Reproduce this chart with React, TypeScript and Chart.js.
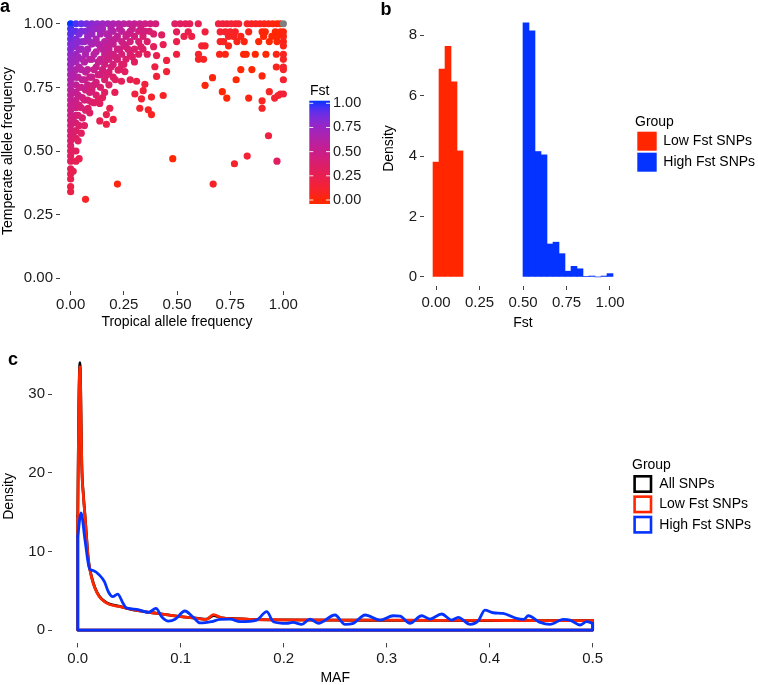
import React, { useEffect, useRef } from 'react';
import { Chart, registerables } from 'chart.js';

Chart.register(...registerables);

const FONT = '"Liberation Sans", Arial, Helvetica, sans-serif';
const RED = '#FF2600';
const BLUE = '#0433FF';
const NA_GREY = '#7F7F7F';
const TEXT = '#1A1A1A';
const TICK = '#444444';
const TICK_FONT = 15;

// ---------- Panel a: allele frequencies ----------
const tropicalAF = [
  0, 0.025, 0.05, 0.075, 0.1, 0.125, 0.15, 0.175, 0.2, 0.225,
  0.25, 0.275, 0.3, 0.325, 0.35, 0.375, 0.4, 0.49, 0.515, 0.54,
  0.56, 0.6, 0.695, 0.715, 0.735, 0.755, 0.775, 0.79, 0.83, 0.85,
  0.87, 0.89, 0.91, 0.93, 0.95, 0.97, 0.985, 1,
  0, 0, 0, 0, 0, 0, 0, 0, 0, 0, 0,
  0, 0, 0, 0, 0, 0, 0, 0, 0, 0, 0,
  0, 0, 0, 0, 0, 0, 0, 0, 0, 0,
  0.025, 0.025, 0.025, 0.025, 0.025, 0.025, 0.025, 0.025, 0.025,
  0.025, 0.025, 0.025, 0.025, 0.025, 0.025, 0.025, 0.025,
  0.04, 0.04, 0.04, 0.04, 0.04, 0.04, 0.04,
  0.055, 0.055, 0.055, 0.055, 0.055, 0.07, 0.07, 0.07, 0.07, 0.07, 0.07,
  0.08, 0.08, 0.08, 0.08, 0.08, 0.082, 0.09, 0.097,
  0.1, 0.1, 0.1, 0.1, 0.1, 0.12, 0.12, 0.12, 0.12, 0.12,
  0.137, 0.137, 0.14, 0.14, 0.14, 0.14, 0.14,
  0.16, 0.16, 0.16, 0.16, 0.16, 0.168, 0.168, 0.184,
  0.18, 0.18, 0.18, 0.18, 0.18, 0.2, 0.2, 0.2, 0.2, 0.2, 0.2,
  0.208, 0.223, 0.22, 0.22, 0.22, 0.239, 0.24, 0.24, 0.24, 0.24,
  0.255, 0.26, 0.26, 0.26, 0.28, 0.28, 0.28, 0.28,
  0.302, 0.3, 0.3, 0.3, 0.31, 0.32, 0.32, 0.32,
  0.325, 0.333, 0.341, 0.349, 0.34, 0.34, 0.365, 0.36, 0.36, 0.37,
  0.38, 0.38, 0.39, 0.39, 0.396, 0.404, 0.404, 0.428, 0.435, 0.435, 0.451, 0.451,
  0.22, 0.48, 0.67, 0.77, 0.83, 0.93, 0.97,
  0.498, 0.553, 0.632, 0.703, 0.727, 0.75, 0.774, 0.837, 0.9, 0.915, 0.962, 0.986, 1,
  0.533, 0.569, 0.742, 0.766, 0.8, 0.907, 0.946, 0.97, 1,
  0.498, 0.703, 0.719, 0.782, 0.816, 0.884, 0.934, 0.97, 1,
  0.616, 0.632, 0.742, 1, 0.498, 0.601, 0.7, 0.727, 0.813, 0.825,
  0.868, 0.918, 0.967, 1, 0.601, 0.625, 1, 0.967, 1,
  0.8, 0.852, 1, 0.9, 0.667, 0.778, 1, 0.632,
  0.713, 0.934, 0.986, 1, 0.975, 0.734, 0.837, 0.959, 0.9, 0.9,
  0.012, 0.012, 0.012, 0.012, 0.012, 0.012, 0.012, 0.012, 0.012, 0.012,
  0.035, 0.035, 0.035, 0.035, 0.035, 0.035, 0.05, 0.05, 0.05, 0.05, 0.05, 0.05,
  0.065, 0.065, 0.065, 0.065, 0.065, 0.09, 0.09, 0.09, 0.09, 0.09,
  0.11, 0.11, 0.11, 0.11, 0.11, 0.13, 0.13, 0.13, 0.13, 0.13,
  0.15, 0.15, 0.15, 0.15, 0.17, 0.17, 0.17, 0.17, 0.19, 0.19, 0.19, 0.19,
  0.21, 0.21, 0.21, 0.23, 0.23, 0.23, 0.25, 0.25, 0.27, 0.27, 0.29, 0.29, 0.33, 0.33, 0.35,
];
const temperateAF = [
  1, 1, 1, 1, 1, 1, 1, 1, 1, 1,
  1, 1, 1, 1, 1, 1, 1, 1, 1, 1,
  1, 1, 1, 1, 1, 1, 1, 1, 1, 1,
  1, 1, 1, 1, 1, 1, 1, 1,
  0.34, 0.36, 0.39, 0.41, 0.43, 0.46, 0.48, 0.5, 0.52, 0.54, 0.56,
  0.58, 0.6, 0.62, 0.64, 0.66, 0.68, 0.7, 0.72, 0.74, 0.76, 0.78,
  0.8, 0.82, 0.84, 0.86, 0.88, 0.9, 0.92, 0.94, 0.96, 0.98,
  0.46, 0.5, 0.55, 0.58, 0.61, 0.64, 0.67, 0.7, 0.73,
  0.76, 0.79, 0.82, 0.85, 0.88, 0.91, 0.94, 0.97,
  0.47, 0.6, 0.68, 0.75, 0.83, 0.9, 0.96,
  0.63, 0.71, 0.78, 0.86, 0.93, 0.31, 0.66, 0.74, 0.81, 0.88, 0.97,
  0.7, 0.76, 0.82, 0.9, 0.95, 0.668, 0.65, 0.693,
  0.74, 0.79, 0.86, 0.92, 0.96, 0.72, 0.77, 0.83, 0.89, 0.94,
  0.618, 0.687, 0.75, 0.8, 0.86, 0.91, 0.96,
  0.73, 0.78, 0.84, 0.88, 0.93, 0.605, 0.643, 0.668,
  0.76, 0.81, 0.86, 0.9, 0.95, 0.624, 0.79, 0.84, 0.88, 0.92, 0.97,
  0.73, 0.818, 0.86, 0.9, 0.95, 0.774, 0.84, 0.88, 0.93, 0.97,
  0.812, 0.86, 0.91, 0.95, 0.78, 0.88, 0.93, 0.97,
  0.724, 0.85, 0.9, 0.95, 0.774, 0.88, 0.93, 0.97,
  0.668, 0.705, 0.737, 0.762, 0.9, 0.95, 0.662, 0.88, 0.93, 0.97,
  0.643, 0.712, 0.91, 0.96, 0.831, 0.793, 0.875, 0.956, 0.918, 0.718, 0.812, 0.856,
  0.37, 0.47, 0.37, 0.45, 0.48, 0.56, 0.46,
  0.968, 0.968, 0.968, 0.968, 0.968, 0.968, 0.968, 0.968, 0.968, 0.968, 0.968, 0.968, 0.968,
  0.95, 0.95, 0.95, 0.95, 0.95, 0.95, 0.95, 0.95, 0.95,
  0.93, 0.93, 0.93, 0.93, 0.93, 0.93, 0.93, 0.93, 0.93,
  0.913, 0.913, 0.913, 0.913, 0.88, 0.88, 0.88, 0.88, 0.88, 0.88,
  0.88, 0.88, 0.88, 0.88, 0.86, 0.86, 0.86, 0.83, 0.83,
  0.82, 0.82, 0.82, 0.795, 0.788, 0.78, 0.78, 0.758,
  0.733, 0.733, 0.724, 0.724, 0.718, 0.708, 0.708, 0.708, 0.697, 0.668,
  0.42, 0.5, 0.57, 0.62, 0.68, 0.73, 0.8, 0.86, 0.92, 0.97,
  0.54, 0.64, 0.72, 0.79, 0.87, 0.93, 0.57, 0.67, 0.75, 0.82, 0.9, 0.97,
  0.6, 0.7, 0.78, 0.85, 0.93, 0.73, 0.79, 0.86, 0.93, 0.98,
  0.69, 0.76, 0.82, 0.88, 0.98, 0.7, 0.8, 0.85, 0.92, 0.98,
  0.71, 0.82, 0.9, 0.98, 0.8, 0.86, 0.91, 0.96, 0.83, 0.88, 0.93, 0.98,
  0.78, 0.87, 0.94, 0.82, 0.9, 0.98, 0.84, 0.92, 0.9, 0.96, 0.87, 0.98, 0.91, 0.98, 0.97,
];
const afTicks = [0, 0.25, 0.5, 0.75, 1];
const fstLegendTicks = [0, 0.25, 0.5, 0.75, 1];

// ---------- Panel b: Fst histogram (density) ----------
const histGroups = ['Low Fst SNPs', 'High Fst SNPs'];
const lowFstBinCenters = [0, 0.0345, 0.069, 0.1034, 0.1379];
const lowFstDensity = [3.8, 6.88, 7.63, 6.46, 4.17];
const highFstBinCenters = [0.5172, 0.5517, 0.5862, 0.6207, 0.6552, 0.6897, 0.7241, 0.7586, 0.7931, 0.8276, 0.8621, 0.8966, 0.931, 0.9655, 1.0];
const highFstDensity = [8.41, 8.14, 4.15, 4.04, 1.09, 1.15, 0.77, 0.19, 0.35, 0.27, 0.02, 0.03, 0, 0.03, 0.11];
const fstTicks = [0, 0.25, 0.5, 0.75, 1];
const histDensityTicks = [0, 2, 4, 6, 8];

// ---------- Panel c: MAF density ----------
const densityGroups = ['All SNPs', 'Low Fst SNPs', 'High Fst SNPs'];
const allMAF = [0, 0.001, 0.0022, 0.0028, 0.0039, 0.0055, 0.0071, 0.0103, 0.0136, 0.0168, 0.021, 0.0265, 0.031, 0.041, 0.05, 0.0573, 0.0767, 0.096, 0.1155, 0.125, 0.1317, 0.14, 0.154, 0.167, 0.2, 0.25, 0.3, 0.35, 0.4, 0.45, 0.5];
const allDensity = [14.5, 28.5, 34.0, 31.0, 21.2, 17.2, 14.5, 9.0, 6.7, 5.35, 4.3, 3.6, 3.3, 3.0, 2.7, 2.5, 2.12, 1.78, 1.5, 1.38, 1.85, 1.55, 1.45, 1.36, 1.28, 1.25, 1.24, 1.22, 1.21, 1.2, 1.2];
const lowMAF = [0, 0.001, 0.0022, 0.0028, 0.0039, 0.0055, 0.0071, 0.0103, 0.0136, 0.0168, 0.021, 0.0265, 0.031, 0.041, 0.05, 0.0573, 0.0767, 0.096, 0.1155, 0.125, 0.1317, 0.14, 0.154, 0.167, 0.2, 0.25, 0.3, 0.35, 0.4, 0.45, 0.5];
const lowDensity = [14, 28, 33.5, 30.5, 21, 17, 14.4, 8.9, 6.6, 5.3, 4.24, 3.55, 3.25, 2.97, 2.7, 2.5, 2.12, 1.78, 1.48, 1.35, 1.95, 1.55, 1.45, 1.35, 1.3, 1.27, 1.25, 1.24, 1.22, 1.2, 1.2];
const highMAF = [0, 0.0032, 0.0071, 0.0113, 0.0152, 0.021, 0.0259, 0.0297, 0.034, 0.0388, 0.0437, 0.0469, 0.0573, 0.0686, 0.076, 0.0815, 0.088, 0.0945, 0.104, 0.1123, 0.1187, 0.125, 0.13, 0.138, 0.148, 0.1576, 0.1738, 0.1835, 0.19, 0.203, 0.209, 0.2175, 0.2255, 0.2336, 0.2498, 0.2595, 0.2676, 0.279, 0.2935, 0.3064, 0.313, 0.3226, 0.334, 0.342, 0.3534, 0.363, 0.3695, 0.381, 0.389, 0.3954, 0.4035, 0.413, 0.426, 0.433, 0.4375, 0.449, 0.4585, 0.4715, 0.478, 0.4877, 0.4942, 0.5];
const highDensity = [11.9, 14.9, 11.4, 7.85, 7.55, 7.0, 6.15, 4.87, 4.24, 4.58, 3.48, 2.84, 2.63, 2.25, 2.76, 1.69, 1.14, 1.36, 2.42, 1.61, 0.9, 0.97, 1.06, 1.36, 1.4, 1.06, 1.27, 2.33, 1.06, 0.85, 0.97, 0.72, 1.4, 0.85, 1.91, 0.72, 0.85, 1.91, 1.27, 1.82, 1.78, 0.85, 1.82, 1.4, 2.04, 1.27, 1.61, 0.72, 1.19, 2.54, 2.2, 2.12, 1.48, 1.36, 1.82, 0.97, 0.72, 1.36, 1.27, 0.64, 1.06, 0.85];
const mafTicks = [0, 0.1, 0.2, 0.3, 0.4, 0.5];
const mafDensityTicks = [0, 10, 20, 30];

// ---------- colour helpers (ggplot-like Lab gradient) ----------
function hexToRgb(h: string) {
  return [parseInt(h.slice(1, 3), 16), parseInt(h.slice(3, 5), 16), parseInt(h.slice(5, 7), 16)];
}
function rgbToLab(rgb: number[]) {
  const lin = (c: number) => { c /= 255; return c <= 0.04045 ? c / 12.92 : Math.pow((c + 0.055) / 1.055, 2.4); };
  const R = lin(rgb[0]), G = lin(rgb[1]), B = lin(rgb[2]);
  const X = (0.4124 * R + 0.3576 * G + 0.1805 * B) / 0.95047;
  const Y = 0.2126 * R + 0.7152 * G + 0.0722 * B;
  const Z = (0.0193 * R + 0.1192 * G + 0.9505 * B) / 1.08883;
  const f = (t: number) => (t > 0.008856 ? Math.cbrt(t) : 7.787 * t + 16 / 116);
  const fx = f(X), fy = f(Y), fz = f(Z);
  return [116 * fy - 16, 500 * (fx - fy), 200 * (fy - fz)];
}
function labToCss(lab: number[]) {
  const fy = (lab[0] + 16) / 116, fx = fy + lab[1] / 500, fz = fy - lab[2] / 200;
  const inv = (t: number) => { const t3 = t * t * t; return t3 > 0.008856 ? t3 : (t - 16 / 116) / 7.787; };
  const X = inv(fx) * 0.95047, Y = inv(fy), Z = inv(fz) * 1.08883;
  const R = 3.2406 * X - 1.5372 * Y - 0.4986 * Z;
  const G = -0.9689 * X + 1.8758 * Y + 0.0415 * Z;
  const B = 0.0557 * X - 0.204 * Y + 1.057 * Z;
  const g = (c: number) => {
    c = Math.max(0, Math.min(1, c));
    const v = c <= 0.0031308 ? 12.92 * c : 1.055 * Math.pow(c, 1 / 2.4) - 0.055;
    return Math.round(v * 255);
  };
  return `rgb(${g(R)},${g(G)},${g(B)})`;
}
const LOW_LAB = rgbToLab(hexToRgb(RED));
const HIGH_LAB = rgbToLab(hexToRgb(BLUE));
function gradientColor(t: number) {
  if (!isFinite(t)) return NA_GREY;
  const u = Math.max(0, Math.min(1, t));
  return labToCss(LOW_LAB.map((v, i) => v + (HIGH_LAB[i] - v) * u));
}
function neiFst(p1: number, p2: number) {
  const pbar = (p1 + p2) / 2;
  const ht = 2 * pbar * (1 - pbar);
  if (ht <= 1e-9) return NaN;
  const hs = p1 * (1 - p1) + p2 * (1 - p2);
  return (ht - hs) / ht;
}

// ---------- axis helper ----------
function linearAxis(p: {
  min: number; max: number; ticks: number[]; digits: number; title: string;
  size: number; isX: boolean; titlePad: { top: number; bottom: number }; tickPad: number;
}) {
  return {
    type: 'linear',
    min: p.min,
    max: p.max,
    offset: false,
    afterBuildTicks: (s: any) => { s.ticks = p.ticks.map((v) => ({ value: v })); },
    afterFit: (s: any) => { if (p.isX) s.height = p.size; else s.width = p.size; },
    ticks: {
      callback: (v: any) => Number(v).toFixed(p.digits),
      color: TEXT,
      font: { family: FONT, size: TICK_FONT },
      padding: p.tickPad,
      autoSkip: false,
      maxRotation: 0,
      minRotation: 0,
    },
    grid: { display: true, drawOnChartArea: false, drawTicks: true, tickLength: 4, tickColor: TICK, tickWidth: 1, offset: false },
    border: { display: false },
    title: { display: true, text: p.title, color: '#000', font: { family: FONT, size: 14 }, padding: p.titlePad },
  };
}

const baseOptions = {
  responsive: false,
  maintainAspectRatio: false,
  animation: false,
  devicePixelRatio: 1,
  events: [],
};

// ---------- legend plugins ----------
const colorbarPlugin = {
  id: 'fstColorbar',
  afterDraw(chart: any) {
    const ctx = chart.ctx;
    const x0 = 309.3, w = 20.7, yTop = 101.7, yBot = 205;
    const y0v = 201, span = 96.7;
    ctx.save();
    const grad = ctx.createLinearGradient(0, yBot, 0, yTop);
    for (let i = 0; i <= 20; i++) {
      const pos = i / 20;
      const y = yBot - pos * (yBot - yTop);
      grad.addColorStop(pos, gradientColor((y0v - y) / span));
    }
    ctx.fillStyle = grad;
    ctx.fillRect(x0, yTop, w, yBot - yTop);
    ctx.strokeStyle = 'rgba(255,255,255,0.9)';
    ctx.lineWidth = 1;
    ctx.font = `14.5px ${FONT}`;
    ctx.textBaseline = 'middle';
    ctx.textAlign = 'left';
    fstLegendTicks.forEach((v) => {
      const y = y0v - v * span;
      ctx.beginPath();
      ctx.moveTo(x0, y); ctx.lineTo(x0 + 4, y);
      ctx.moveTo(x0 + w - 4, y); ctx.lineTo(x0 + w, y);
      ctx.stroke();
      ctx.fillStyle = TEXT;
      ctx.fillText(v.toFixed(2), 333, y);
    });
    ctx.fillStyle = '#000';
    ctx.font = `14px ${FONT}`;
    ctx.fillText('Fst', 310, 92);
    ctx.restore();
  },
};

const histLegendPlugin = {
  id: 'histLegend',
  afterDraw(chart: any) {
    const ctx = chart.ctx;
    ctx.save();
    ctx.font = `14px ${FONT}`;
    ctx.textBaseline = 'middle';
    ctx.textAlign = 'left';
    ctx.fillStyle = '#000';
    ctx.fillText('Group', 257, 123);
    chart.data.datasets.forEach((ds: any, i: number) => {
      ctx.fillStyle = ds.backgroundColor;
      ctx.fillRect(259.3, 132.7 + i * 21, 19.4, 19);
      ctx.fillStyle = '#000';
      ctx.fillText(ds.label, 285.3, 142.4 + i * 21);
    });
    ctx.restore();
  },
};

const densityLegendPlugin = {
  id: 'densityLegend',
  afterDraw(chart: any) {
    const ctx = chart.ctx;
    ctx.save();
    ctx.font = `14px ${FONT}`;
    ctx.textBaseline = 'middle';
    ctx.textAlign = 'left';
    ctx.fillStyle = '#000';
    ctx.fillText('Group', 632, 130);
    const colors = ['#000000', RED, BLUE];
    densityGroups.forEach((label, i) => {
      const top = 140 + i * 20.35;
      ctx.strokeStyle = colors[i];
      ctx.lineWidth = 2.6;
      ctx.strokeRect(634.6, top + 1.3, 16.4, 15.4);
      ctx.fillStyle = '#000';
      ctx.fillText(label, 659.3, top + 9.2);
    });
    ctx.restore();
  },
};

function curveDatasets(label: string, color: string, xs: number[], ys: number[]) {
  const n = xs.length;
  return [
    {
      label,
      data: xs.map((x, i) => ({ x, y: ys[i] })),
      borderColor: color,
      backgroundColor: color,
      borderWidth: 2.8,
      pointRadius: 0,
      fill: false,
      cubicInterpolationMode: 'monotone',
      borderJoinStyle: 'round',
      borderCapStyle: 'round',
    },
    {
      label: label + ' outline',
      data: [
        { x: xs[0], y: ys[0] },
        { x: xs[0], y: 0 },
        { x: xs[n - 1], y: 0 },
        { x: xs[n - 1], y: ys[n - 1] },
      ],
      borderColor: color,
      backgroundColor: color,
      borderWidth: 2.8,
      pointRadius: 0,
      fill: false,
      tension: 0,
      borderJoinStyle: 'round',
      borderCapStyle: 'round',
    },
  ];
}

export default function App() {
  const aRef = useRef<HTMLCanvasElement>(null);
  const bRef = useRef<HTMLCanvasElement>(null);
  const cRef = useRef<HTMLCanvasElement>(null);

  useEffect(() => {
    Chart.defaults.font.family = FONT;
    const charts: Chart[] = [];

    // Panel a
    const points = tropicalAF.map((x, i) => ({ x, y: temperateAF[i] }));
    const pointColors = points.map((p) => gradientColor(neiFst(p.x, p.y)));
    charts.push(new Chart(aRef.current as HTMLCanvasElement, {
      type: 'scatter',
      data: {
        datasets: [{
          label: 'SNPs',
          data: points,
          pointRadius: 3.6,
          pointHoverRadius: 3.6,
          pointBorderWidth: 0,
          pointBackgroundColor: pointColors,
          pointBorderColor: pointColors,
        }],
      },
      options: {
        ...baseOptions,
        layout: { padding: { left: 0, right: 81, top: 0, bottom: 0 } },
        plugins: { legend: { display: false }, tooltip: { enabled: false } },
        scales: {
          x: linearAxis({ min: -0.05, max: 1.05, ticks: afTicks, digits: 2, title: 'Tropical allele frequency', size: 45, isX: true, titlePad: { top: 0, bottom: 5 }, tickPad: 0.4 }),
          y: linearAxis({ min: -0.05, max: 1.05, ticks: afTicks, digits: 2, title: 'Temperate allele frequency', size: 60, isX: false, titlePad: { top: 0, bottom: 0 }, tickPad: 3 }),
        },
      } as any,
      plugins: [colorbarPlugin],
    } as any));

    // Panel b
    charts.push(new Chart(bRef.current as HTMLCanvasElement, {
      type: 'bar',
      data: {
        datasets: [
          { label: histGroups[0], data: lowFstBinCenters.map((x, i) => ({ x, y: lowFstDensity[i] })), backgroundColor: RED, borderWidth: 0, grouped: false, barPercentage: 1, categoryPercentage: 1 },
          { label: histGroups[1], data: highFstBinCenters.map((x, i) => ({ x, y: highFstDensity[i] })), backgroundColor: BLUE, borderWidth: 0, grouped: false, barPercentage: 1, categoryPercentage: 1 },
        ],
      },
      options: {
        ...baseOptions,
        layout: { padding: { left: 0, right: 136, top: 0, bottom: 0 } },
        plugins: { legend: { display: false }, tooltip: { enabled: false } },
        scales: {
          x: linearAxis({ min: -0.069, max: 1.069, ticks: fstTicks, digits: 2, title: 'Fst', size: 50, isX: true, titlePad: { top: 0, bottom: 4.6 }, tickPad: 4.3 }),
          y: linearAxis({ min: -0.3, max: 8.8, ticks: histDensityTicks, digits: 0, title: 'Density', size: 46, isX: false, titlePad: { top: 2.4, bottom: 0 }, tickPad: 3 }),
        },
      } as any,
      plugins: [histLegendPlugin],
    } as any));

    // Panel c
    charts.push(new Chart(cRef.current as HTMLCanvasElement, {
      type: 'line',
      data: {
        datasets: [
          ...curveDatasets(densityGroups[2], BLUE, highMAF, highDensity),
          ...curveDatasets(densityGroups[1], RED, lowMAF, lowDensity),
          ...curveDatasets(densityGroups[0], '#000000', allMAF, allDensity),
        ],
      },
      options: {
        ...baseOptions,
        layout: { padding: { left: 0, right: 139.6, top: 14.4, bottom: 0 } },
        plugins: { legend: { display: false }, tooltip: { enabled: false } },
        scales: {
          x: linearAxis({ min: -0.025, max: 0.525, ticks: mafTicks, digits: 1, title: 'MAF', size: 45.6, isX: true, titlePad: { top: 0, bottom: 2 }, tickPad: 2.6 }),
          y: linearAxis({ min: -1.7, max: 35.7, ticks: mafDensityTicks, digits: 0, title: 'Density', size: 52, isX: false, titlePad: { top: 0.8, bottom: 0 }, tickPad: 3 }),
        },
      } as any,
      plugins: [densityLegendPlugin],
    } as any));

    return () => { charts.forEach((c) => c.destroy()); };
  }, []);

  const letter = (text: string, left: number, top: number) => (
    <div style={{ position: 'absolute', left, top, font: `bold 18px ${FONT}`, lineHeight: '18px', color: '#000' }}>{text}</div>
  );

  return (
    <div style={{ position: 'absolute', left: 0, top: 0, width: 758, height: 685, overflow: 'hidden', background: '#fff' }}>
      <canvas ref={aRef} width={375} height={337} style={{ position: 'absolute', left: 0, top: -1, width: 375, height: 337 }} />
      <canvas ref={bRef} width={380} height={337} style={{ position: 'absolute', left: 378, top: -1, width: 380, height: 337 }} />
      <canvas ref={cRef} width={758} height={354} style={{ position: 'absolute', left: 0, top: 335, width: 758, height: 354 }} />
      {letter('a', 0, -3.5)}
      {letter('b', 380.5, -0.2)}
      {letter('c', 8, 349.8)}
    </div>
  );
}
